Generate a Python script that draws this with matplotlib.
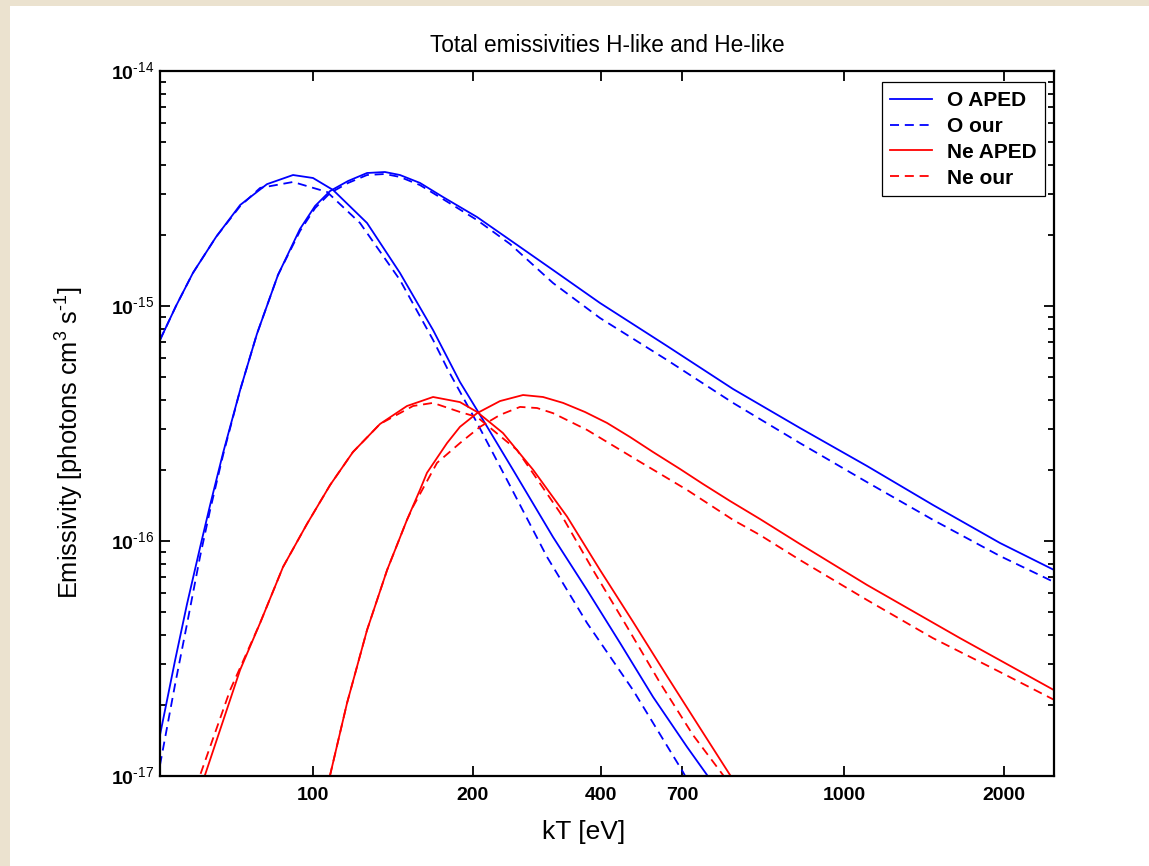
import matplotlib
matplotlib.use("Agg")
import matplotlib.pyplot as plt
from matplotlib.patches import Rectangle
from matplotlib.ticker import LogLocator, NullLocator, NullFormatter

plt.rcParams["font.family"] = ["Liberation Sans", "DejaVu Sans"]
plt.rcParams["mathtext.fontset"] = "custom"
plt.rcParams["mathtext.rm"] = "Liberation Sans"
plt.rcParams["mathtext.bf"] = "Liberation Sans:bold"

# kT [eV] and emissivity in units of 1e-16 photons cm^3 s^-1
# O, lower-temperature peak
o1_kT = [51.5, 55.2, 59.4, 65.7, 72.9, 81.9, 91.7, 100, 109.1, 126.4, 145.8,
         168.3, 189.1, 206.3, 238.0, 283.1, 328.1, 378.7, 436.9, 506.2, 552.1, 571]
o1_aped = [7.17, 10.0, 13.82, 19.7, 26.9, 33.0, 36.09, 35.05, 31.16, 22.55, 13.82,
           7.90, 4.75, 3.44, 2.01, 1.04, 0.619, 0.368, 0.217, 0.133, 0.101, 0.089]
o1_our_kT = [51.5, 55.2, 59.4, 65.7, 72.9, 79.5, 91.7, 106.3, 122.6, 145.8, 168.3,
             179.6, 203.7, 231.9, 275.9, 328.1, 400.6, 497.5, 513]
o1_our = [7.17, 10.0, 13.82, 19.7, 26.6, 31.8, 33.71, 30.56, 22.55, 12.9, 7.17,
          5.34, 3.18, 1.82, 0.855, 0.448, 0.232, 0.104, 0.0915]

# O, higher-temperature peak
o2_kT = [51.5, 55.0, 57.9, 61.3, 64.0, 67.7, 72.9, 78.4, 85.9, 94.5, 100.9, 107.7,
         116.4, 126.4, 136.6, 145.8, 159.0, 175.7, 203.7, 235.0, 283.1, 347.1, 464.2,
         618.0, 826.2, 1105, 1471, 1967, 2486]
o2_aped = [0.1494, 0.3117, 0.539, 0.943, 1.423, 2.37, 4.39, 7.60, 13.55, 21.27, 26.65,
           30.86, 34.03, 36.81, 37.17, 36.09, 33.4, 29.09, 23.9, 19.09, 14.23, 10.30,
           6.758, 4.435, 3.026, 2.085, 1.423, 0.9806, 0.753]
o2_our = [0.1113, 0.2463, 0.4434, 0.8632, 1.355, 2.322, 4.39, 7.60, 13.55, 20.85, 26.1,
          30.26, 33.38, 36.09, 36.45, 35.4, 32.7, 28.5, 23.2, 18.36, 12.53, 8.89,
          5.89, 3.87, 2.61, 1.78, 1.23, 0.8632, 0.669]

# Ne, lower-temperature peak
ne1_kT = [61.3, 62.6, 72.9, 79.5, 87.8, 97.4, 107.7, 118.9, 133.7, 150.3, 168.3,
          189.1, 203.7, 227.9, 259.7, 300.9, 347.1, 400.6, 464.2, 535.6, 610.0, 637]
ne1_aped = [0.087, 0.101, 0.283, 0.448, 0.775, 1.181, 1.731, 2.391, 3.147, 3.754, 4.10,
            3.90, 3.54, 2.88, 2.01, 1.27, 0.753, 0.453, 0.266, 0.16, 0.101, 0.087]
ne1_our_kT = [60.2, 61.3, 69.8, 79.5, 87.8, 97.4, 107.7, 118.9, 133.7, 154.3, 168.3,
              189.1, 203.7, 242.2, 291.9, 336.7, 390.4, 450.4, 519.5, 591.7, 610.0]
ne1_our = [0.089, 0.101, 0.232, 0.448, 0.775, 1.181, 1.731, 2.391, 3.147, 3.754, 3.87,
           3.54, 3.37, 2.44, 1.32, 0.753, 0.431, 0.249, 0.1494, 0.101, 0.087]

# Ne, higher-temperature peak
ne2_kT = [106.3, 107.7, 115.9, 126.4, 137.9, 150.3, 159.0, 163.9, 178.8, 189.1, 203.7,
          225.0, 248.6, 271.1, 295.7, 325.2, 357.8, 395.4, 436.9, 491.1, 542.6, 610.0,
          694.8, 826.2, 1105, 1654, 2486]
ne2_aped = [0.087, 0.101, 0.2045, 0.418, 0.753, 1.23, 1.65, 1.95, 2.61, 3.06, 3.50,
            3.94, 4.18, 4.10, 3.87, 3.54, 3.18, 2.77, 2.391, 2.025, 1.748, 1.480,
            1.240, 0.971, 0.650, 0.386, 0.232]
ne2_our_kT = [106.3, 107.7, 115.9, 126.4, 137.9, 150.3, 154.3, 171.2, 189.1, 206.3,
              225.0, 245.4, 264.2, 283.1, 328.1, 407.6, 506.2, 618.0, 694.8, 826.2,
              1105, 1471, 1967, 2486]
ne2_our = [0.087, 0.101, 0.2045, 0.418, 0.753, 1.23, 1.40, 2.15, 2.61, 3.06,
           3.44, 3.72, 3.68, 3.50, 2.97, 2.21, 1.65, 1.23, 1.06, 0.830,
           0.561, 0.386, 0.277, 0.211]

# tick labels sit at these temperatures in the original figure
xtick_pos = [100, 200, 348, 495, 1000, 2000]
xtick_labels = ["100", "200", "400", "700", "1000", "2000"]
ytick_pos = [1e-17, 1e-16, 1e-15, 1e-14]
ytick_labels = [r"$\mathbf{10}^{\text{-17}}$", r"$\mathbf{10}^{\text{-16}}$",
                r"$\mathbf{10}^{\text{-15}}$", r"$\mathbf{10}^{\text{-14}}$"]

W, H = 1149, 866
fig = plt.figure(figsize=(W / 100, H / 100), dpi=100)
fig.patch.set_facecolor("#ebe2cf")
fig.patches.append(Rectangle((10 / W, 0), 1, (H - 6) / H, transform=fig.transFigure,
                             facecolor="white", edgecolor="none", zorder=-10))

ax = fig.add_axes([160 / W, (H - 776) / H, (1054 - 160) / W, (776 - 71) / H])

lw = 1.3
dash = (5, 3.2)
s = 1e-16
ax.plot(o1_kT, [v * s for v in o1_aped], color="blue", lw=lw, label="O APED")
ax.plot(o1_our_kT, [v * s for v in o1_our], color="blue", lw=lw, dashes=dash, label="O our")
ax.plot(ne1_kT, [v * s for v in ne1_aped], color="red", lw=lw, label="Ne APED")
ax.plot(ne1_our_kT, [v * s for v in ne1_our], color="red", lw=lw, dashes=dash, label="Ne our")
ax.plot(o2_kT, [v * s for v in o2_aped], color="blue", lw=lw)
ax.plot(o2_kT, [v * s for v in o2_our], color="blue", lw=lw, dashes=dash)
ax.plot(ne2_kT, [v * s for v in ne2_aped], color="red", lw=lw)
ax.plot(ne2_our_kT, [v * s for v in ne2_our], color="red", lw=lw, dashes=dash)

ax.set_xscale("log")
ax.set_yscale("log")
ax.set_xlim(51.5, 2486)
ax.set_ylim(1e-17, 1e-14)

ax.set_xticks(xtick_pos)
ax.set_xticklabels(xtick_labels, fontweight="bold")
ax.xaxis.set_minor_locator(NullLocator())
ax.set_yticks(ytick_pos)
ax.set_yticklabels(ytick_labels)
ax.yaxis.set_minor_locator(LogLocator(base=10, subs=range(2, 10)))
ax.yaxis.set_minor_formatter(NullFormatter())

ax.tick_params(which="both", direction="in", top=True, right=True, width=1.3,
               labelsize=14, colors="black")
ax.tick_params(which="major", length=7)
ax.tick_params(which="minor", length=4.5)
ax.tick_params(axis="x", which="major", pad=8)
ax.tick_params(axis="y", which="major", pad=4)
for sp in ax.spines.values():
    sp.set_linewidth(1.6)

ax.set_title("Total emissivities H-like and He-like", fontsize=16.3, pad=14)
ax.set_xlabel("kT [eV]", fontsize=19)
ax.xaxis.set_label_coords((584 - 160) / 894, -0.062)
ax.set_ylabel(r"Emissivity [photons cm$^{\mathregular{3}}$ s$^{\text{-1}}$]",
              fontsize=18.3)
ax.yaxis.set_label_coords((86 - 160) / 894, (776 - 443) / 705)

leg = ax.legend(loc="upper right", bbox_to_anchor=(0.990, 0.984), borderaxespad=0,
                fancybox=False, framealpha=1, edgecolor="black",
                prop={"weight": "bold", "size": 15}, handlelength=2.0,
                handletextpad=0.7, labelspacing=0.33, borderpad=0.42)
leg.get_frame().set_linewidth(0.9)

fig.savefig("out.png", dpi=100, facecolor=fig.get_facecolor())
